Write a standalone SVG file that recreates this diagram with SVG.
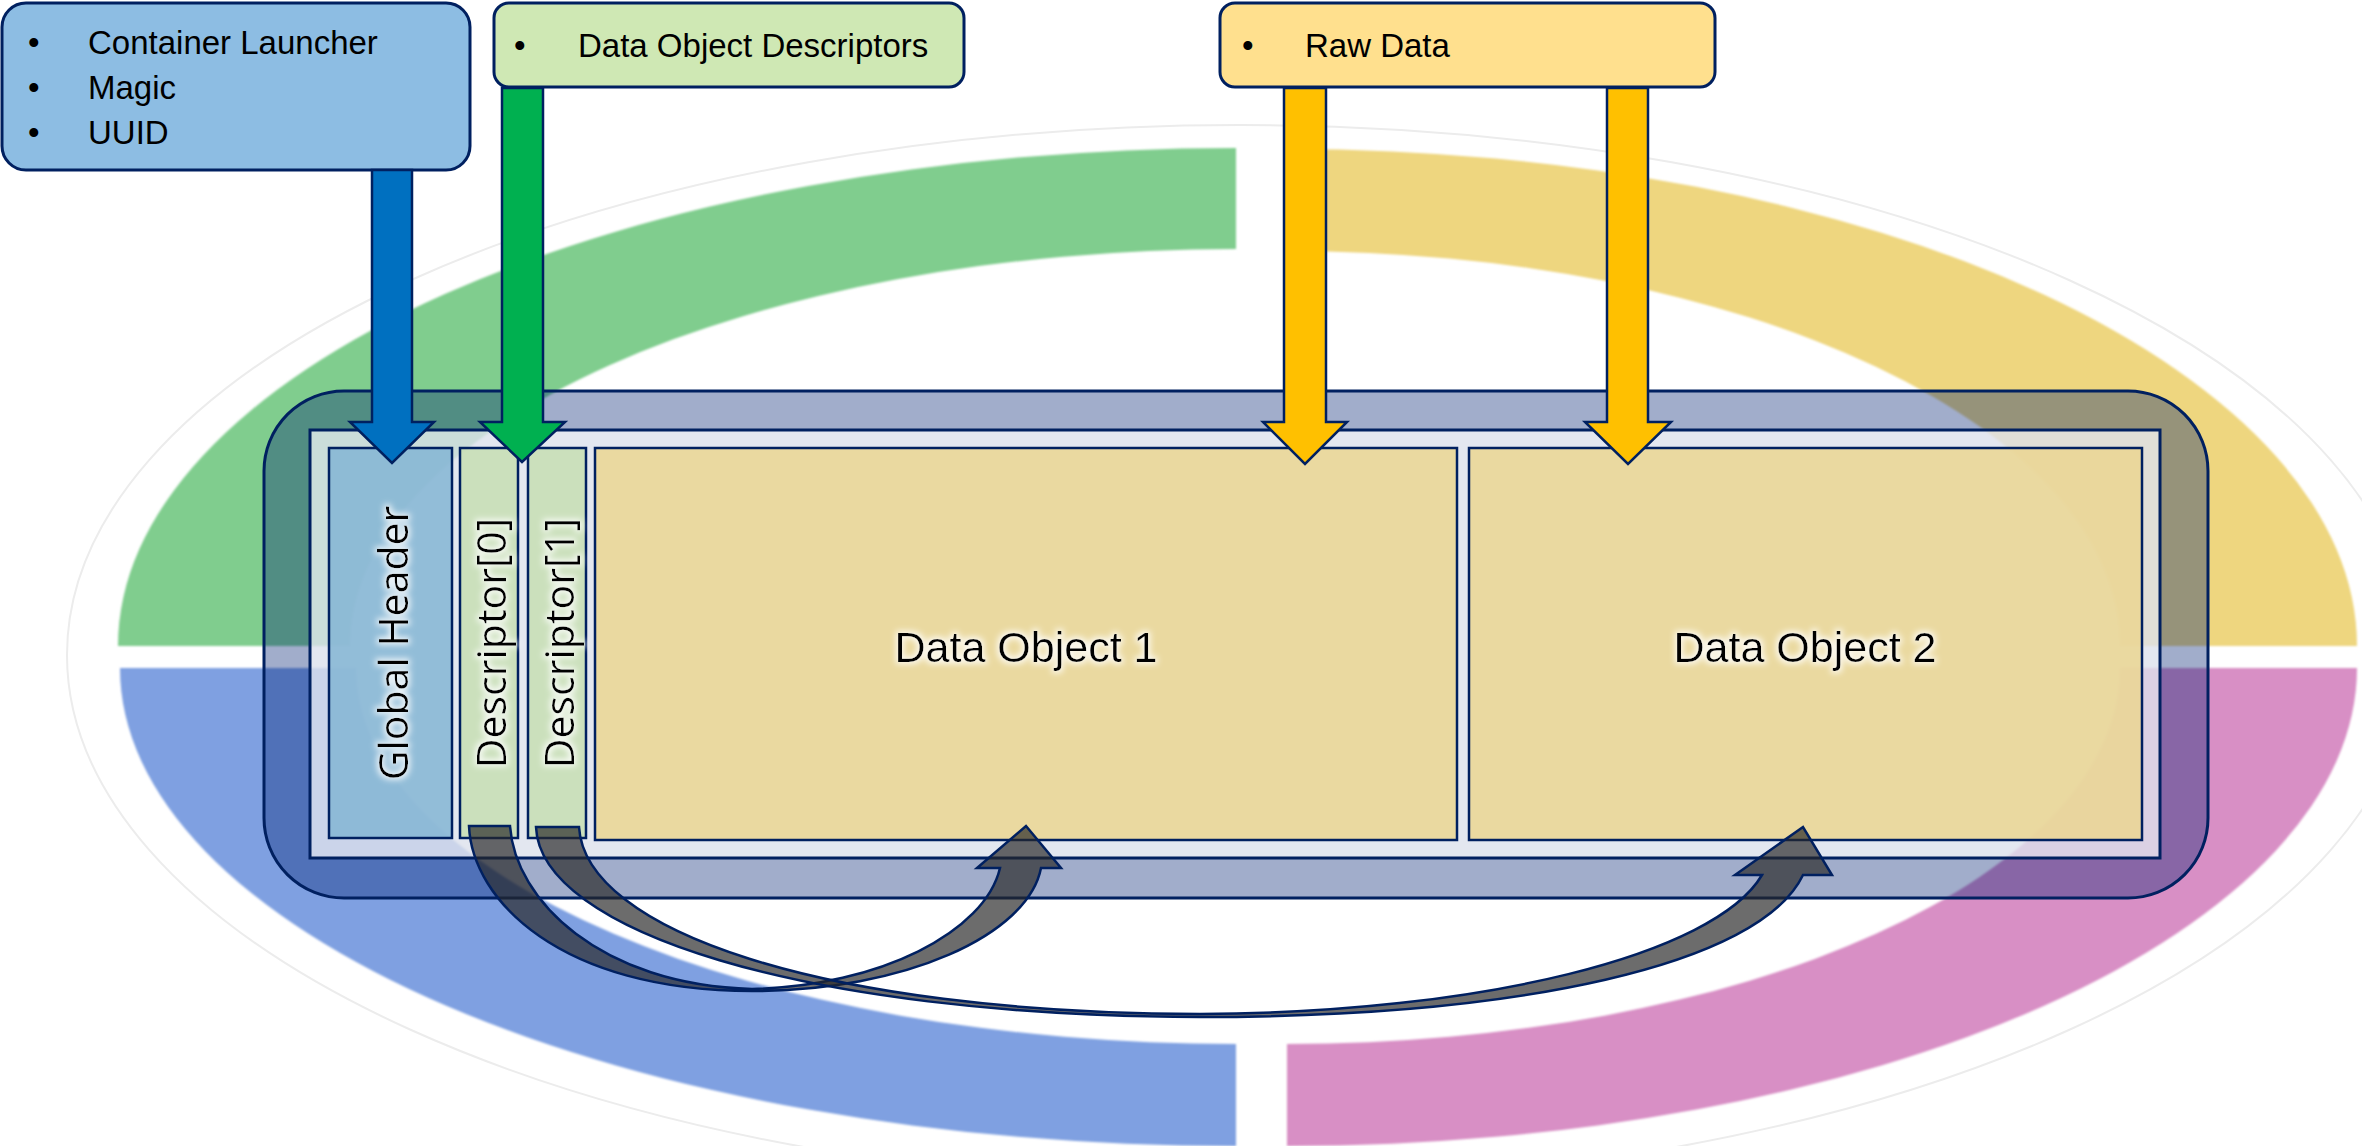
<svg xmlns="http://www.w3.org/2000/svg" width="2362" height="1146" viewBox="0 0 2362 1146">
<defs>
<filter id="soft" x="-5%" y="-5%" width="110%" height="110%"><feGaussianBlur stdDeviation="1.3"/></filter>
<filter id="glow" x="-20%" y="-30%" width="140%" height="160%">
<feMorphology in="SourceAlpha" operator="dilate" radius="2" result="d"/>
<feGaussianBlur in="d" stdDeviation="3" result="b"/>
<feFlood flood-color="#ffffff" flood-opacity="0.85"/>
<feComposite in2="b" operator="in" result="g"/>
<feMerge><feMergeNode in="g"/><feMergeNode in="SourceGraphic"/></feMerge>
</filter>
</defs>
<style>
.nav{stroke:#002060;stroke-width:2.5;stroke-linejoin:miter}
.box{stroke:#002060;stroke-width:3}
.lbl{font-family:"Open Sans","DejaVu Sans",sans-serif;font-size:41px;fill:#000}
.top{font-family:"Liberation Sans",Arial,sans-serif;font-size:33px;fill:#000}
.big{font-family:"Liberation Sans",Arial,sans-serif;font-size:43px;fill:#000}
.cur{fill:#262626;fill-opacity:0.68;stroke:#002060;stroke-width:2.5;stroke-linejoin:miter}
</style>
<rect width="2362" height="1146" fill="#ffffff"/>
<g id="ring">
<ellipse cx="1240" cy="655" rx="1173" ry="530" fill="none" stroke="#ececec" stroke-width="2"/>
<g filter="url(#soft)">
<path d="M 1236 148 A 1118 498 0 0 0 118 646 L 350 646 A 886 397 0 0 1 1236 249 Z" fill="#80CD8E"/>
<path d="M 1287 149 A 1070 497 0 0 1 2357 646 L 2120 646 A 833 395 0 0 0 1287 251 Z" fill="#EED67F"/>
<path d="M 120 668 A 1116 478 0 0 0 1236 1146 L 1236 1044 A 880 376 0 0 1 356 668 Z" fill="#7FA0E1"/>
<path d="M 1287 1146 A 1070 478 0 0 0 2357 668 L 2120 668 A 833 376 0 0 1 1287 1044 Z" fill="#D88FC5"/>
</g>
</g>
<g id="container">
<rect x="264" y="391" width="1944" height="507" rx="80" ry="80" fill="#002073" fill-opacity="0.37" class="box"/>
<rect x="310" y="430" width="1850" height="428" fill="#ffffff" fill-opacity="0.7" class="box"/>
</g>
<g id="global-header">
<rect x="329" y="448" width="123" height="390" fill="#84B5D4" fill-opacity="0.85" class="nav"/>
<text class="lbl" transform="translate(392 643) rotate(-90)" text-anchor="middle" dominant-baseline="central" filter="url(#glow)">Global Header</text>
</g>
<g id="descriptor-0">
<rect x="460" y="448" width="58" height="390" fill="#C7DEB3" fill-opacity="0.85" class="nav"/>
<text class="lbl" transform="translate(490 643) rotate(-90)" text-anchor="middle" dominant-baseline="central" filter="url(#glow)">Descriptor[0]</text>
</g>
<g id="descriptor-1">
<rect x="528" y="448" width="58" height="390" fill="#C7DEB3" fill-opacity="0.85" class="nav"/>
<text class="lbl" transform="translate(558 643) rotate(-90)" text-anchor="middle" dominant-baseline="central" filter="url(#glow)">Descriptor[1]</text>
</g>
<g id="data-object-1">
<rect x="595" y="448" width="862" height="392" fill="#EBD692" fill-opacity="0.85" class="nav"/>
<text class="big" x="1026" y="662" text-anchor="middle" filter="url(#glow)">Data Object 1</text>
</g>
<g id="data-object-2">
<rect x="1469" y="448" width="673" height="392" fill="#EBD692" fill-opacity="0.85" class="nav"/>
<text class="big" x="1805" y="662" text-anchor="middle" filter="url(#glow)">Data Object 2</text>
</g>
<g id="box-launcher">
<rect x="2" y="3" width="468" height="167" rx="24" ry="24" fill="#8DBDE3" class="box"/>
<text class="top" x="28" y="54">•</text>
<text class="top" x="88" y="54">Container Launcher</text>
<text class="top" x="28" y="99">•</text>
<text class="top" x="88" y="99">Magic</text>
<text class="top" x="28" y="144">•</text>
<text class="top" x="88" y="144">UUID</text>
</g>
<g id="box-descriptors">
<rect x="494" y="3" width="470" height="84" rx="15" ry="15" fill="#CFE8B4" class="box"/>
<text class="top" x="514" y="57">•</text>
<text class="top" x="578" y="57">Data Object Descriptors</text>
</g>
<g id="box-rawdata">
<rect x="1220" y="3" width="495" height="84" rx="15" ry="15" fill="#FFE08E" class="box"/>
<text class="top" x="1242" y="57">•</text>
<text class="top" x="1305" y="57">Raw Data</text>
</g>
<g id="connectors">
<polygon class="nav" fill="#0070C0" points="372,170 412,170 412,422 434,422 392,463 350,422 372,422"/>
<polygon class="nav" fill="#00B050" points="502,88 543,88 543,422 565,422 522,462 480,422 502,422"/>
<polygon class="nav" fill="#FFC000" points="1284,88 1326,88 1326,422 1347,422 1305,464 1263,422 1284,422"/>
<polygon class="nav" fill="#FFC000" points="1607,88 1648,88 1648,422 1671,422 1628,464 1585,422 1607,422"/>
<path class="cur" d="M 469 826 C 472 900 560 991 752 991 C 905 991 1028 935 1041 868 L 1061 868 L 1026 826 L 977 868 L 1000 868 C 985 932 880 986 752 989 C 600 985 515 900 510 826 Z"/>
<path class="cur" d="M 536 827 C 540 930 800 1016 1200 1017 C 1520 1017 1760 965 1803 875 L 1832 875 L 1803 827 L 1735 875 L 1762 875 C 1715 955 1480 1013 1200 1014 C 820 1013 585 930 579 827 Z"/>
</g>
</svg>
